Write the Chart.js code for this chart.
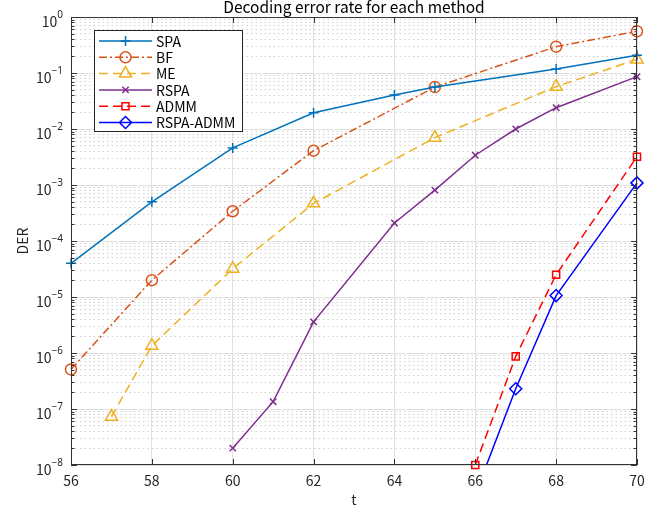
<!DOCTYPE html>
<html lang="ja">
<head>
<meta charset="UTF-8">
<title>Decoding error rate for each method</title>
<style>
  body { margin: 0; background: #ffffff; }
  canvas { display: block; }
</style>
</head>
<body>
<canvas id="derChart" width="665" height="512"></canvas>
<script src="https://cdn.jsdelivr.net/npm/chart.js"></script>
<script>
// t values and decoding error rate (DER) for each method
const spaT = [56, 58, 60, 62, 64, 65, 68, 70];
const spaDer = [4.0e-5, 5.0e-4, 4.6e-3, 1.95e-2, 4.05e-2, 5.6e-2, 1.18e-1, 2.07e-1];

const bfT = [56, 58, 60, 62, 65, 68, 70];
const bfDer = [5.1e-7, 2.0e-5, 3.4e-4, 4.1e-3, 5.6e-2, 2.95e-1, 5.55e-1];

const meT = [57, 58, 60, 62, 65, 68, 70];
const meDer = [7.3e-8, 1.35e-6, 3.2e-5, 4.7e-4, 7.0e-3, 5.7e-2, 1.75e-1];

const rspaT = [60, 61, 62, 64, 65, 66, 67, 68, 70];
const rspaDer = [2.0e-8, 1.35e-7, 3.6e-6, 2.1e-4, 8.1e-4, 3.4e-3, 1.0e-2, 2.4e-2, 8.6e-2];

const admmT = [66, 67, 68, 70];
const admmDer = [1.0e-8, 8.7e-7, 2.5e-5, 3.2e-3];

const rspaAdmmT = [66, 67, 68, 70];
const rspaAdmmDer = [3.0e-9, 2.3e-7, 1.06e-5, 1.09e-3];

// axis ticks
const xTicks = [56, 58, 60, 62, 64, 66, 68, 70];
const yDecades = [-8, -7, -6, -5, -4, -3, -2, -1, 0];

const FONT = '"Noto Sans CJK JP", "Noto Sans", sans-serif';
const AXIS = '#333333';

function isDecade(v) {
  const l = Math.log10(v);
  return Math.abs(l - Math.round(l)) < 1e-6;
}

function series(label, ts, vals, color, dash, style, radius) {
  return {
    label: label,
    data: ts.map((t, i) => ({ x: t, y: vals[i] })),
    borderColor: color,
    borderWidth: 1.5,
    borderDash: dash,
    pointStyle: style,
    pointRadius: radius,
    pointBorderColor: color,
    pointBackgroundColor: 'rgba(0,0,0,0)',
    pointBorderWidth: 1.5,
    fill: false,
    tension: 0,
    clip: 10
  };
}

const datasets = [
  series('SPA', spaT, spaDer, '#0072BD', [], 'cross', 5),
  series('BF', bfT, bfDer, '#D95319', [8, 3, 2, 3], 'circle', 5.5),
  series('ME', meT, meDer, '#EDB120', [9, 5], 'triangle', 7),
  series('RSPA', rspaT, rspaDer, '#7E2F8E', [], 'crossRot', 4.5),
  series('ADMM', admmT, admmDer, '#FF0000', [9, 5], 'rect', 5),
  series('RSPA-ADMM', rspaAdmmT, rspaAdmmDer, '#0000FF', [], 'rectRot', 6)
];
// the lowest RSPA-ADMM point lies below the axis: cut the line at the bottom edge
datasets[5].clip = { left: 10, top: 10, right: 10, bottom: 0 };

// box, inward ticks, y labels with exponents, legend and title
const framePlugin = {
  id: 'frame',
  afterDraw(chart) {
    const { ctx, chartArea: a, scales: { x, y } } = chart;
    ctx.save();

    ctx.strokeStyle = AXIS;
    ctx.lineWidth = 1;
    ctx.setLineDash([]);
    ctx.beginPath();
    xTicks.forEach(v => {
      const px = Math.round(x.getPixelForValue(v)) + 0.5;
      ctx.moveTo(px, a.bottom); ctx.lineTo(px, a.bottom - 6);
      ctx.moveTo(px, a.top); ctx.lineTo(px, a.top + 6);
    });
    y.ticks.forEach(t => {
      const py = Math.round(y.getPixelForValue(t.value)) + 0.5;
      const len = isDecade(t.value) ? 6 : 3.5;
      ctx.moveTo(a.left, py); ctx.lineTo(a.left + len, py);
      ctx.moveTo(a.right, py); ctx.lineTo(a.right - len, py);
    });
    ctx.stroke();
    ctx.strokeRect(Math.round(a.left) + 0.5, Math.round(a.top) + 0.5,
      Math.round(a.width) - 1, Math.round(a.height) - 1);

    // y tick labels: 10 with a raised exponent
    ctx.fillStyle = '#262626';
    ctx.textBaseline = 'alphabetic';
    yDecades.forEach(k => {
      const py = y.getPixelForValue(Math.pow(10, k));
      const exp = k === 0 ? '0' : '\u2212' + (-k);
      ctx.font = '10px "Noto Sans", sans-serif';
      const ew = ctx.measureText(exp).width;
      const right = a.left - 8;
      ctx.textAlign = 'left';
      ctx.fillText(exp, right - ew, py + 1);
      ctx.font = '14px ' + FONT;
      ctx.textAlign = 'right';
      ctx.fillText('10', right - ew, py + 9.5);
    });

    // legend
    const lx = 94.5, ly = 30.5, lw = 148, lh = 101;
    ctx.fillStyle = '#ffffff';
    ctx.fillRect(lx, ly, lw, lh);
    ctx.strokeStyle = '#262626';
    ctx.lineWidth = 1;
    ctx.strokeRect(lx, ly, lw, lh);
    chart.data.datasets.forEach((ds, i) => {
      const cy = 41 + i * 16.3;
      ctx.strokeStyle = ds.borderColor;
      ctx.lineWidth = ds.borderWidth;
      ctx.setLineDash(ds.borderDash);
      ctx.beginPath();
      ctx.moveTo(99, cy); ctx.lineTo(152, cy);
      ctx.stroke();
      ctx.setLineDash([]);
      ctx.fillStyle = 'rgba(0,0,0,0)';
      ctx.lineWidth = ds.pointBorderWidth;
      Chart.helpers.drawPoint(ctx, {
        pointStyle: ds.pointStyle, radius: ds.pointRadius,
        borderWidth: ds.pointBorderWidth, rotation: 0
      }, 125.5, cy);
      ctx.fillStyle = '#000000';
      ctx.font = '14px ' + FONT;
      ctx.textAlign = 'left';
      ctx.textBaseline = 'middle';
      ctx.fillText(ds.label, 156, cy + 0.5);
    });

    // title
    ctx.fillStyle = '#000000';
    ctx.font = '15.5px ' + FONT;
    ctx.textAlign = 'center';
    ctx.textBaseline = 'middle';
    ctx.fillText('Decoding error rate for each method', (a.left + a.right) / 2, 7.5);

    ctx.restore();
  }
};

new Chart(document.getElementById('derChart'), {
  type: 'line',
  data: { datasets: datasets },
  options: {
    responsive: false,
    animation: false,
    devicePixelRatio: 1,
    layout: { padding: { left: 0, right: 28, top: 17, bottom: 0 } },
    plugins: { legend: { display: false }, tooltip: { enabled: false } },
    scales: {
      x: {
        type: 'linear',
        min: 56,
        max: 70,
        afterBuildTicks: s => { s.ticks = xTicks.map(v => ({ value: v })); },
        afterFit: s => { s.height = 47; },
        grid: { color: '#e0e0e0', lineWidth: 1, drawTicks: false },
        border: { display: false },
        ticks: {
          autoSkip: false,
          maxRotation: 0,
          padding: 7,
          color: '#262626',
          font: { family: FONT, size: 14 },
          callback: v => String(v)
        },
        title: {
          display: true,
          text: 't',
          color: '#262626',
          font: { family: FONT, size: 14 },
          padding: { top: 0, bottom: 4 }
        }
      },
      y: {
        type: 'logarithmic',
        min: 1e-8,
        max: 1,
        afterBuildTicks: s => {
          const ticks = [];
          yDecades.forEach(k => {
            ticks.push({ value: Math.pow(10, k) });
            if (k < 0) {
              for (let m = 2; m <= 9; m++) ticks.push({ value: m * Math.pow(10, k) });
            }
          });
          s.ticks = ticks;
        },
        afterFit: s => { s.width = 71; },
        grid: {
          lineWidth: 1,
          drawTicks: false,
          color: c => (c.tick && !isDecade(c.tick.value)) ? '#d0d0d0' : '#e0e0e0'
        },
        border: {
          display: false,
          dash: c => (c.tick && !isDecade(c.tick.value)) ? [1.5, 3] : []
        },
        ticks: { display: false, callback: () => '' },
        title: {
          display: true,
          text: 'DER',
          color: '#262626',
          font: { family: FONT, size: 14 },
          padding: { top: 14, bottom: 0 }
        }
      }
    }
  },
  plugins: [framePlugin]
});
</script>
</body>
</html>
